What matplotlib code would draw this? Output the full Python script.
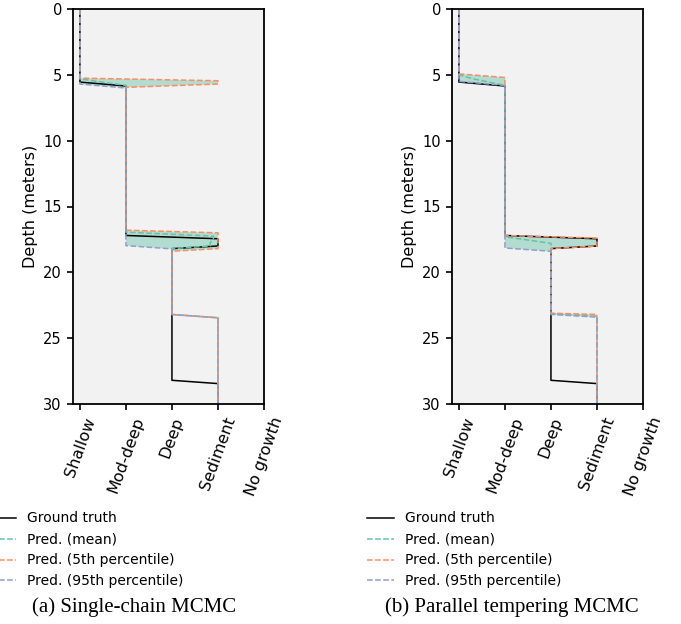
import numpy as np
import matplotlib
matplotlib.use("Agg")
import matplotlib.pyplot as plt

# Habitat classes along x, depth (m) along y
classes = ["Shallow", "Mod-deep", "Deep", "Sediment", "No growth"]

# Ground truth profile (same in both panels)
truth_depth = [0, 5.55, 5.85, 17.2, 17.45, 18.0, 18.2, 28.2, 28.45, 30]
truth_class = [0, 0, 1, 1, 3, 3, 2, 2, 3, 3]

# (a) single-chain MCMC
a_mean_depth = [0, 5.3, 5.55, 5.8, 16.95, 17.25, 17.5, 17.75, 18.0, 18.2, 23.2, 23.45, 30]
a_mean_class = [0, 0, 0.47, 1, 1, 2.9, 2.9, 2.83, 2.83, 2, 2, 3, 3]
a_p5_depth = [0, 5.25, 5.45, 5.7, 5.95, 16.8, 17.0, 18.2, 18.4, 23.2, 23.45, 30]
a_p5_class = [0, 0, 3, 3, 1, 1, 3, 3, 2, 2, 3, 3]
a_p95_depth = [0, 5.7, 6.0, 17.97, 18.22, 23.2, 23.45, 30]
a_p95_class = [0, 0, 1, 1, 2, 2, 3, 3]

# (b) parallel tempering MCMC
b_mean_depth = [0, 5.0, 5.3, 5.8, 17.3, 17.8, 23.15, 23.35, 30]
b_mean_class = [0, 0, 0.3, 1, 1, 2, 2, 3, 3]
b_p5_depth = [0, 4.93, 5.2, 17.2, 17.4, 18.0, 18.2, 23.1, 23.2, 30]
b_p5_class = [0, 0, 1, 1, 3, 3, 2, 2, 3, 3]
b_p95_depth = [0, 5.5, 5.8, 18.15, 18.4, 23.2, 23.4, 30]
b_p95_class = [0, 0, 1, 1, 2, 2, 3, 3]

panels = [
    ("(a) Single-chain MCMC", a_mean_depth, a_mean_class, a_p5_depth, a_p5_class, a_p95_depth, a_p95_class),
    ("(b) Parallel tempering MCMC", b_mean_depth, b_mean_class, b_p5_depth, b_p5_class, b_p95_depth, b_p95_class),
]

c_mean = "#66c2a5"
c_p5 = "#fc8d62"
c_p95 = "#8da0cb"

plt.rcParams['font.size'] = 10
fig = plt.figure(figsize=(6.81, 6.24), dpi=100)

ax_left = [73 / 681, 452 / 681]
ax_w = 191 / 681
ax_bottom = 1 - 404 / 624
ax_h = 395 / 624
legend_x = [-24 / 681, 354 / 681]
caption_x = [134 / 681, 512 / 681]

for i, (title, md, mc, p5d, p5c, p95d, p95c) in enumerate(panels):
    ax = fig.add_axes([ax_left[i], ax_bottom, ax_w, ax_h])
    ax.set_facecolor("#f2f2f2")

    # shaded band between 5th and 95th percentile
    poly_x = np.concatenate([p5c, p95c[::-1]])
    poly_y = np.concatenate([p5d, p95d[::-1]])
    ax.fill(poly_x, poly_y, color=c_mean, alpha=0.45, lw=0)

    ax.plot(truth_class, truth_depth, color="black", lw=1.1, label="Ground truth")
    ax.plot(mc, md, "--", color=c_mean, lw=1.1, label="Pred. (mean)")
    ax.plot(p5c, p5d, "--", color=c_p5, lw=1.1, label="Pred. (5th percentile)")
    ax.plot(p95c, p95d, "--", color=c_p95, lw=1.1, label="Pred. (95th percentile)")

    ax.set_xlim(-0.15, 4)
    ax.set_ylim(30, 0)
    ax.set_xticks(range(len(classes)))
    ax.set_xticklabels(classes, rotation=70, ha="center", fontsize=11.5)
    ax.set_yticks([0, 5, 10, 15, 20, 25, 30])
    ax.tick_params(axis="y", labelsize=10.5)
    ax.set_ylabel("Depth (meters)", fontsize=11.5)
    for s in ax.spines.values():
        s.set_linewidth(1.3)
    ax.tick_params(width=1.2, length=4.5)

    ax.legend(loc="upper left", bbox_to_anchor=(legend_x[i], 1 - 499 / 624),
              bbox_transform=fig.transFigure, frameon=False)
    fig.text(caption_x[i], 1 - 607 / 624, title, ha="center", va="center",
             family="Liberation Serif", fontsize=15)

fig.savefig("out.png", dpi=100)
